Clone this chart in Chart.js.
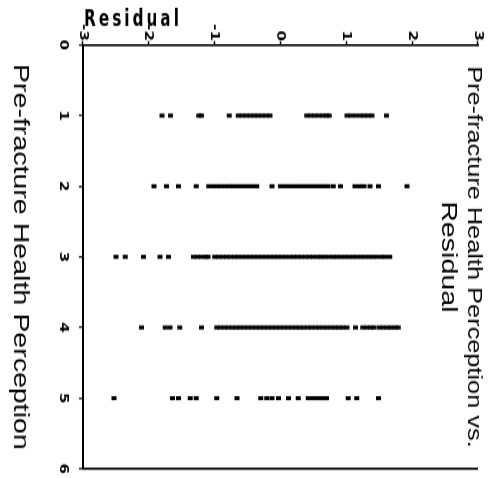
<!DOCTYPE html>
<html>
<head>
<meta charset="utf-8">
<title>Pre-fracture Health Perception vs. Residual</title>
<script src="https://cdn.jsdelivr.net/npm/chart.js@4.4.1/dist/chart.umd.min.js"></script>
<style>
  html, body { margin: 0; padding: 0; background: #fff; }
  body { width: 499px; height: 478px; overflow: hidden; position: relative; }
  /* the scanned chart lies on its side and is a bit stretched across */
  #wrap {
    position: absolute;
    left: 0;
    top: 0;
    width: 368px;
    height: 499px;
    transform-origin: 0 0;
    transform: translate(499px, 0) rotate(90deg) scale(1.299, 1);
  }
</style>
</head>
<body>
<div id="wrap"><canvas id="myChart" width="368" height="499"></canvas></div>
<script>
// Health perception levels (x) and the residuals found at each one (y)
const perceptionLevels = [1, 2, 3, 4, 5];
const residualsAt1 = [-1.80, -1.67, -1.24, -1.20, -0.78, -0.64, -0.58, -0.52, -0.46, -0.40, -0.34, -0.28, -0.22, -0.16,
  0.40, 0.46, 0.52, 0.58, 0.64, 0.70, 0.74, 1.01, 1.07, 1.14, 1.21, 1.27, 1.33, 1.39, 1.61];
const residualsAt2 = [-1.92, -1.73, -1.55, -1.28, -1.09, -1.02, -0.96, -0.90, -0.84, -0.78, -0.72, -0.66, -0.60, -0.54,
  -0.48, -0.42, -0.36, -0.13, 0.00, 0.06, 0.12, 0.18, 0.24, 0.30, 0.36, 0.42, 0.48, 0.54, 0.60, 0.66, 0.72, 0.80,
  0.91, 1.13, 1.20, 1.27, 1.36, 1.49, 1.92];
const residualsAt3 = [-2.50, -2.36, -2.08, -1.83, -1.70, -1.32, -1.26, -1.20, -1.14, -1.10, -1.00, -0.94, -0.88, -0.82,
  -0.76, -0.70, -0.64, -0.58, -0.52, -0.46, -0.40, -0.34, -0.28, -0.22, -0.16, -0.10, -0.04, 0.02, 0.08, 0.14, 0.20,
  0.26, 0.32, 0.38, 0.44, 0.50, 0.57, 0.62, 0.68, 0.74, 0.80, 0.86, 0.92, 0.98, 1.04, 1.10, 1.16, 1.22, 1.28, 1.34,
  1.40, 1.46, 1.53, 1.59, 1.66];
const residualsAt4 = [-2.11, -1.75, -1.68, -1.53, -1.20, -0.97, -0.91, -0.85, -0.79, -0.73, -0.67, -0.61, -0.55, -0.49,
  -0.43, -0.37, -0.31, -0.25, -0.19, -0.13, -0.07, -0.01, 0.05, 0.11, 0.17, 0.23, 0.29, 0.35, 0.41, 0.47, 0.53, 0.59,
  0.65, 0.71, 0.77, 0.83, 0.89, 0.95, 1.01, 1.14, 1.25, 1.31, 1.37, 1.42, 1.50, 1.56, 1.62, 1.68, 1.74, 1.79];
const residualsAt5 = [-2.53, -1.64, -1.55, -1.37, -1.28, -0.97, -0.66, -0.30, -0.21, -0.13, -0.03, 0.12, 0.27, 0.42,
  0.48, 0.54, 0.60, 0.66, 0.70, 1.03, 1.16, 1.49];

// Axis ticks and texts
const perceptionTicks = [0, 1, 2, 3, 4, 5, 6];
const residualTicks = [-3, -2, -1, 0, 1, 2, 3];
const titleLines = ["Pre-fracture Health Perception vs.", "Residual"];
const xTitle = "Pre-fracture Health Perception";
const yTitle = "Residual";

const residualRows = [residualsAt1, residualsAt2, residualsAt3, residualsAt4, residualsAt5];

// Build the scatter points from the rows
const points = [];
perceptionLevels.forEach((level, i) => {
  residualRows[i].forEach((r) => {
    points.push({ x: level, y: r });
  });
});

const narrowFont = "'Liberation Sans Narrow', 'DejaVu Sans Condensed', sans-serif";

// Titles drawn by hand: the main title sits over the plot, the residual title is spaced out
const sideTitles = {
  id: "sideTitles",
  afterDraw(chart) {
    const c = chart.ctx;
    const area = chart.chartArea;
    c.save();
    c.fillStyle = "#000";
    c.font = '19.5px "Liberation Sans", Arial, sans-serif';
    c.textAlign = "center";
    c.textBaseline = "alphabetic";
    const cx = (area.left + area.right) / 2;
    c.fillText(titleLines[0], cx, 31);
    c.font = '22px "Liberation Sans", Arial, sans-serif';
    c.fillText(titleLines[1], cx, 57);

    c.font = 'bold 17px "DejaVu Sans Condensed", sans-serif';
    c.letterSpacing = "3px";
    c.translate(19.5, area.bottom - 1);
    c.rotate(-Math.PI / 2);
    c.textAlign = "left";
    c.fillText(yTitle, 0, 0);
    c.restore();
  },
};

const ctx = document.getElementById("myChart");
const config = {
  type: "scatter",
  data: {
    datasets: [
      {
        label: "Residual",
        data: points,
        pointStyle: "line",
        rotation: 90,
        radius: 2.5,
        borderWidth: 3.1,
        borderColor: "#000",
        backgroundColor: "#000",
      },
    ],
  },
  options: {
    responsive: false,
    animation: false,
    devicePixelRatio: 1,
    layout: {
      padding: { top: 21, right: 7, bottom: 0, left: 0 },
    },
    plugins: {
      legend: { display: false },
      tooltip: { enabled: false },
      title: { display: false },
    },
    scales: {
      x: {
        type: "linear",
        position: "bottom",
        min: perceptionTicks[0],
        max: perceptionTicks[perceptionTicks.length - 1],
        afterBuildTicks: (scale) => {
          scale.ticks = perceptionTicks.map((v) => ({ value: v }));
        },
        afterFit: (scale) => {
          scale.height = 83;
          // keep the label padding from eating into the plot width
          scale.paddingLeft = 0;
          scale.paddingRight = 0;
        },
        border: { display: true, color: "#000", width: 2 },
        grid: {
          display: true,
          drawOnChartArea: true,
          drawTicks: true,
          tickLength: 4,
          tickColor: "#000",
          tickWidth: 1.2,
          lineWidth: 1.6,
          // only the line at 6 closes the plot on that side
          color: (c) => (c.tick && c.tick.value === 6 ? "#000" : "rgba(0,0,0,0)"),
        },
        ticks: {
          color: "#000",
          padding: 8,
          maxRotation: 0,
          font: { family: narrowFont, size: 13, weight: "bold" },
        },
        title: {
          display: true,
          text: xTitle,
          color: "#000",
          font: { family: "'Liberation Sans', Arial, sans-serif", size: 22 },
          padding: { top: 0, bottom: 7 },
        },
      },
      y: {
        type: "linear",
        position: "left",
        min: residualTicks[0],
        max: residualTicks[residualTicks.length - 1],
        afterBuildTicks: (scale) => {
          scale.ticks = residualTicks.map((v) => ({ value: v }));
        },
        afterFit: (scale) => {
          scale.width = 34.6;
        },
        border: { display: true, color: "#000", width: 1.6 },
        grid: {
          display: true,
          drawOnChartArea: false,
          drawTicks: true,
          tickLength: 3,
          tickColor: "#000",
          tickWidth: 1.5,
        },
        ticks: {
          color: "#000",
          padding: 0,
          font: { family: narrowFont, size: 13, weight: "bold" },
        },
      },
    },
  },
  plugins: [sideTitles],
};
const myChart = new Chart(ctx, config);
</script>
</body>
</html>
